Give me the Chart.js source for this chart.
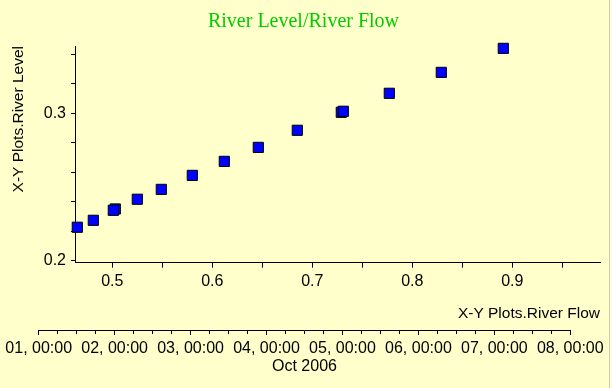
<!DOCTYPE html>
<html>
<head>
<meta charset="utf-8">
<script src="https://cdn.jsdelivr.net/npm/chart.js@4"></script>
<style>
  html, body { margin: 0; padding: 0; background: #ffffcc; }
  #wrap { position: relative; width: 612px; height: 388px; overflow: hidden; }
  #flowChart { position: absolute; left: 0; top: 0; }
  #timeAxis { position: absolute; left: 0; top: 320px; }
  #edge { position: absolute; left: 609px; top: 0; width: 1px; height: 388px; background: #c8c8c8; }
</style>
</head>
<body>
<div id="wrap">
  <canvas id="flowChart" width="612" height="388"></canvas>
  <canvas id="timeAxis" width="612" height="68"></canvas>
  <div id="edge"></div>
</div>
<script>
const riverFlow = [0.465, 0.481, 0.503, 0.501, 0.525, 0.549, 0.580, 0.612, 0.646, 0.685, 0.729, 0.731, 0.777, 0.829, 0.891];
const riverLevel = [0.2227, 0.2274, 0.2351, 0.2342, 0.2417, 0.2484, 0.2579, 0.2674, 0.2769, 0.2885, 0.3007, 0.3014, 0.3136, 0.3278, 0.3441];

const flowTicks = [0.5, 0.6, 0.7, 0.8, 0.9];
const levelTicks = [0.2, 0.3];
const dayLabels = ["01, 00:00", "02, 00:00", "03, 00:00", "04, 00:00", "05, 00:00", "06, 00:00", "07, 00:00", "08, 00:00"];

const TEXT = "#000000";
const SANS = "'Liberation Sans', Arial, sans-serif";

Chart.defaults.font.family = SANS;
Chart.defaults.color = TEXT;

function labelFrom(list) {
  return function (value) {
    const match = list.find(function (t) {
      return Math.abs(t - value) < 1e-6;
    });
    return match === undefined ? "" : match.toFixed(1);
  };
}

function axisGrid(tickLength) {
  return {
    display: true,
    drawOnChartArea: false,
    drawTicks: true,
    tickLength: tickLength,
    tickColor: TEXT,
    tickWidth: 1
  };
}

const points = riverFlow.map(function (flow, i) {
  return { x: flow, y: riverLevel[i] };
});

new Chart(document.getElementById("flowChart"), {
  type: "scatter",
  data: {
    datasets: [{
      label: "River Level",
      data: points,
      pointStyle: "rect",
      pointRadius: 7.2,
      pointHoverRadius: 7.2,
      backgroundColor: "#0000ff",
      borderColor: "#000000",
      pointBorderWidth: 1,
      clip: false
    }]
  },
  options: {
    responsive: false,
    animation: false,
    events: [],
    layout: {
      padding: { left: 7, right: 12, top: 0, bottom: 65.3 }
    },
    plugins: {
      legend: { display: false },
      tooltip: { enabled: false },
      title: {
        display: true,
        text: "River Level/River Flow",
        color: "#00cc00",
        font: { family: "'Liberation Serif', 'Times New Roman', serif", size: 20, weight: "normal" },
        padding: { top: 10, bottom: 12 }
      }
    },
    scales: {
      x: {
        type: "linear",
        position: "bottom",
        min: 0.4627,
        max: 0.9877,
        afterFit: function (scale) {
          scale.height = 60;
        },
        border: { display: true, color: TEXT, width: 1 },
        grid: axisGrid(5),
        ticks: {
          stepSize: 0.05,
          includeBounds: false,
          maxTicksLimit: 30,
          autoSkip: false,
          maxRotation: 0,
          padding: 4,
          color: TEXT,
          font: { size: 16 },
          callback: labelFrom(flowTicks)
        },
        title: {
          display: true,
          text: "X-Y Plots.River Flow",
          align: "end",
          color: TEXT,
          font: { size: 15.5 },
          padding: { top: 0, bottom: 0 }
        }
      },
      y: {
        type: "linear",
        position: "left",
        min: 0.19864,
        max: 0.3457,
        afterFit: function (scale) {
          scale.width = 68;
        },
        border: { display: true, color: TEXT, width: 1 },
        grid: axisGrid(4),
        ticks: {
          stepSize: 0.02,
          includeBounds: false,
          maxTicksLimit: 30,
          autoSkip: false,
          padding: 5,
          color: TEXT,
          font: { size: 16 },
          callback: labelFrom(levelTicks)
        },
        title: {
          display: true,
          text: "X-Y Plots.River Level",
          align: "end",
          color: TEXT,
          font: { size: 15.5 },
          padding: { top: 2.7, bottom: 0 }
        }
      }
    }
  }
});

new Chart(document.getElementById("timeAxis"), {
  type: "scatter",
  data: {
    datasets: [{ data: [] }]
  },
  options: {
    responsive: false,
    animation: false,
    events: [],
    layout: {
      padding: { left: 38.7, right: 41.7, top: 0, bottom: 0 }
    },
    plugins: {
      legend: { display: false },
      tooltip: { enabled: false }
    },
    scales: {
      x: {
        type: "linear",
        position: "bottom",
        min: 0,
        max: dayLabels.length - 1,
        afterFit: function (scale) {
          scale.height = 58;
        },
        border: { display: true, color: TEXT, width: 1 },
        grid: {
          display: true,
          drawOnChartArea: false,
          tickLength: 5,
          tickColor: TEXT,
          tickWidth: 1,
          tickBorderDash: function (context) {
            const v = context.tick ? context.tick.value : 0;
            return Math.abs(v - Math.round(v)) < 1e-6 ? [] : [3, 20];
          }
        },
        ticks: {
          stepSize: 0.25,
          maxTicksLimit: 40,
          autoSkip: false,
          maxRotation: 0,
          padding: 4.4,
          color: TEXT,
          font: { size: 16 },
          callback: function (value) {
            return dayLabels[value] || "";
          }
        },
        title: {
          display: true,
          text: "Oct 2006",
          color: TEXT,
          font: { size: 16 },
          padding: { top: 0, bottom: 11.7 }
        }
      },
      y: {
        display: false,
        min: 0,
        max: 1
      }
    }
  }
});
</script>
</body>
</html>
